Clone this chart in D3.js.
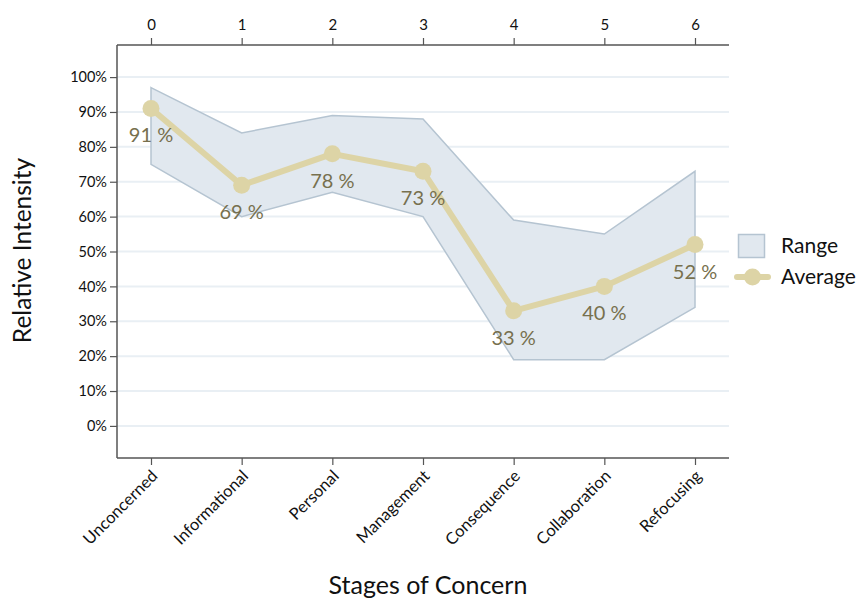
<!DOCTYPE html>
<html><head><meta charset="utf-8">
<script src="https://cdn.jsdelivr.net/npm/d3@7"></script>
<style>body{margin:0;background:#fff}svg{display:block}text{font-family:Lato,"Open Sans",sans-serif}</style>
</head><body><svg id="c" width="856" height="601"></svg>
<script>
const stages = ["Unconcerned","Informational","Personal","Management","Consequence","Collaboration","Refocusing"];
const stageNums = [0,1,2,3,4,5,6];
const average = [91,69,78,73,33,40,52];
const rangeHigh = [97,84,89,88,59,55,73];
const rangeLow = [75,60,67,60,19,19,34];
const yTicks = [0,10,20,30,40,50,60,70,80,90,100];

const svg = d3.select("#c");
const L=117,R=729,T=45,B=458;
const x = d3.scaleLinear().domain([-0.375,6.375]).range([L,R]);
const y = d3.scaleLinear().domain([-9.2,109.2]).range([B,T]);
const axisColor="#555";

// gridlines
svg.append("g").selectAll("line").data(yTicks).join("line")
  .attr("x1",L).attr("x2",R).attr("y1",d=>y(d)).attr("y2",d=>y(d))
  .attr("stroke","#e9eff4").attr("stroke-width",2);

// range area
const area = d3.area().x((d,i)=>x(stageNums[i])).y0((d,i)=>y(rangeLow[i])).y1(d=>y(d));
svg.append("path").datum(rangeHigh).attr("d",area)
  .attr("fill","#e1e8ef").attr("stroke","#b5c4d1").attr("stroke-width",1.5).attr("stroke-linejoin","miter");

// average line
const line = d3.line().x((d,i)=>x(stageNums[i])).y(d=>y(d));
svg.append("path").datum(average).attr("d",line)
  .attr("fill","none").attr("stroke","#ddd4a6").attr("stroke-width",6).attr("stroke-linejoin","round");
svg.append("g").selectAll("circle").data(average).join("circle")
  .attr("cx",(d,i)=>x(stageNums[i])).attr("cy",d=>y(d)).attr("r",8.5).attr("fill","#ddd4a6");
svg.append("g").selectAll("text").data(average).join("text")
  .attr("x",(d,i)=>x(stageNums[i])).attr("y",d=>y(d)+34)
  .attr("text-anchor","middle").attr("font-size",20).attr("fill","#77704e")
  .text(d=>d+" %");

// axes
const yAxis = svg.append("g").attr("transform",`translate(${L},0)`)
  .call(d3.axisLeft(y).tickValues(yTicks).tickFormat(d=>d+"%").tickSize(7).tickPadding(3));
const xTop = svg.append("g").attr("transform",`translate(0,${T})`)
  .call(d3.axisTop(x).tickValues(stageNums).tickFormat(d3.format("d")).tickSize(7).tickPadding(8));
const xBot = svg.append("g").attr("transform",`translate(0,${B})`)
  .call(d3.axisBottom(x).tickValues(stageNums).tickFormat((d,i)=>stages[i]).tickSize(7).tickPadding(4));
[yAxis,xTop,xBot].forEach(g=>{
  g.select(".domain").attr("stroke",axisColor).attr("stroke-width",1.5);
  g.selectAll(".tick line").attr("stroke",axisColor).attr("stroke-width",1.2);
  g.selectAll(".tick text").attr("fill","#111").attr("font-size",14.5);
});
xTop.selectAll(".tick text").attr("font-size",15);
xTop.select(".domain").attr("d",`M${L},0H${R}`);
yAxis.select(".domain").attr("d",`M0,${T}V${B}`);
xBot.select(".domain").attr("d",`M${L},0H${R}`);
xBot.selectAll(".tick text").attr("text-anchor","end").attr("x",0).attr("y",0).attr("dy","0.35em")
  .attr("transform","translate(3,15) rotate(-45)").attr("font-size",16.5);

// axis titles
svg.append("text").attr("transform",`translate(31,${(T+B)/2-1}) rotate(-90)`)
  .attr("text-anchor","middle").attr("font-size",24.5).attr("fill","#111").text("Relative Intensity");
svg.append("text").attr("x",(L+R)/2+5).attr("y",594)
  .attr("text-anchor","middle").attr("font-size",25).attr("fill","#111").text("Stages of Concern");

// legend
const lg = svg.append("g");
lg.append("rect").attr("x",738.5).attr("y",234.5).attr("width",26).attr("height",23)
  .attr("fill","#e1e8ef").attr("stroke","#b5c4d1").attr("stroke-width",1.5);
lg.append("text").attr("x",781).attr("y",253).attr("font-size",21).attr("fill","#111").text("Range");
lg.append("line").attr("x1",737).attr("x2",768).attr("y1",277).attr("y2",277)
  .attr("stroke","#ddd4a6").attr("stroke-width",6).attr("stroke-linecap","round");
lg.append("circle").attr("cx",752.5).attr("cy",277).attr("r",8.5).attr("fill","#ddd4a6");
lg.append("text").attr("x",781).attr("y",284).attr("font-size",21).attr("fill","#111").text("Average");
</script></body></html>
